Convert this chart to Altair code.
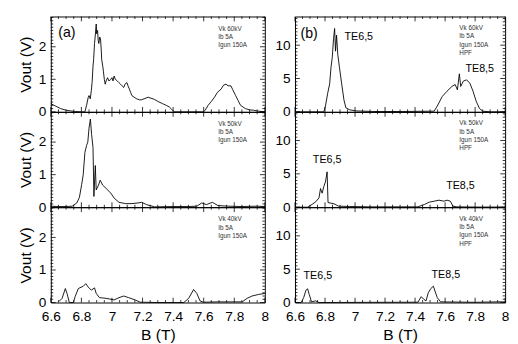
import altair as alt
import pandas as pd

FONT = "Liberation Sans"

# ---------------- data ----------------
# (a) Vk 60kV, no filter
a_B = [6.600, 6.630, 6.664, 6.700, 6.727, 6.760, 6.800, 6.823, 6.834, 6.845, 6.850, 6.858, 6.865, 6.870,
       6.876, 6.880, 6.886, 6.890, 6.897, 6.900, 6.906, 6.910, 6.914, 6.920, 6.925, 6.930, 6.933, 6.940,
       6.944, 6.950, 6.956, 6.962, 6.971, 6.980, 6.993, 7.000, 7.007, 7.014, 7.022, 7.035, 7.045, 7.056,
       7.066, 7.077, 7.085, 7.098, 7.105, 7.114, 7.122, 7.130, 7.145, 7.162, 7.180, 7.194, 7.210, 7.237,
       7.255, 7.279, 7.300, 7.332, 7.355, 7.375, 7.390, 7.407, 7.500, 7.597, 7.610, 7.629, 7.650, 7.671,
       7.690, 7.714, 7.730, 7.746, 7.760, 7.778, 7.790, 7.809, 7.825, 7.841, 7.857, 7.873, 7.900, 7.926,
       7.960, 8.000]
a_V = [0.25, 0.18, 0.10, 0.05, 0.03, 0.01, 0.0, 0.0, 0.2, 0.45, 0.5, 0.4, 0.65, 0.9,
       1.4, 1.6, 2.1, 2.3, 2.7, 2.4, 2.5, 2.2, 2.1, 2.3, 2.25, 1.9, 1.6, 1.4,
       1.25, 1.0, 0.85, 0.95, 1.05, 0.95, 1.0, 1.05, 0.95, 1.1, 1.0, 0.95, 0.9, 0.85,
       0.8, 0.75, 0.85, 0.9, 0.8, 0.7, 0.6, 0.5, 0.45, 0.4, 0.37, 0.37, 0.4, 0.45,
       0.42, 0.38, 0.32, 0.25, 0.2, 0.15, 0.08, 0.0, 0.0, 0.0, 0.05, 0.2, 0.32, 0.45,
       0.6, 0.7, 0.82, 0.85, 0.8, 0.8, 0.68, 0.5, 0.35, 0.2, 0.15, 0.1, 0.06, 0.05,
       0.02, 0.0]

# (c) Vk 50kV, no filter
c_B = [6.600, 6.650, 6.700, 6.740, 6.770, 6.787, 6.802, 6.812, 6.823, 6.834, 6.842, 6.850, 6.859, 6.867,
       6.876, 6.882, 6.891, 6.897, 6.912, 6.923, 6.939, 6.961, 6.993, 7.014, 7.046, 7.088, 7.130, 7.170,
       7.194, 7.226, 7.279, 7.400, 7.500, 7.555, 7.587, 7.618, 7.657, 7.693, 7.765, 7.850, 7.950, 8.000]
c_V = [0.03, 0.02, 0.02, 0.03, 0.13, 0.3, 0.7, 1.0, 1.68, 1.9, 2.0, 2.43, 2.71, 2.23,
       1.83, 0.33, 1.28, 0.53, 0.68, 0.83, 0.68, 0.58, 0.43, 0.28, 0.15, 0.11, 0.11, 0.13,
       0.15, 0.08, 0.01, 0.02, 0.02, 0.03, 0.13, 0.08, 0.15, 0.05, 0.03, 0.02, 0.03, 0.02]

# (e) Vk 40kV, no filter
e_B = [6.653, 6.674, 6.695, 6.706, 6.721, 6.748, 6.759, 6.780, 6.812, 6.829, 6.844, 6.865, 6.886, 6.897,
       6.918, 6.961, 7.014, 7.046, 7.077, 7.109, 7.152, 7.184, 7.300, 7.470, 7.502, 7.534, 7.555, 7.576,
       7.597, 7.700, 7.852, 7.884, 7.916, 7.960, 8.000]
e_V = [0.03, 0.13, 0.43, 0.28, 0.0, 0.0, 0.18, 0.43, 0.5, 0.58, 0.48, 0.38, 0.45, 0.28,
       0.15, 0.13, 0.08, 0.15, 0.2, 0.15, 0.08, 0.01, 0.0, 0.0, 0.13, 0.4, 0.28, 0.05,
       0.01, 0.02, 0.02, 0.13, 0.2, 0.25, 0.28]

# (b) Vk 60kV, HPF
b_B = [6.600, 6.700, 6.792, 6.803, 6.818, 6.831, 6.840, 6.848, 6.857, 6.864, 6.870, 6.877, 6.885, 6.896,
       6.911, 6.926, 6.939, 6.965, 7.008, 7.117, 7.300, 7.527, 7.548, 7.581, 7.613, 7.645, 7.667, 7.682,
       7.695, 7.704, 7.721, 7.743, 7.765, 7.786, 7.807, 7.829, 7.851, 7.900, 8.000]
b_V = [0.0, 0.0, 0.0, 0.87, 2.8, 4.2, 6.7, 8.1, 11.0, 12.5, 9.1, 11.5, 8.6, 6.7,
       4.2, 1.8, 0.6, 0.3, 0.14, 0.05, 0.05, 0.1, 0.87, 2.3, 3.1, 3.8, 4.1, 3.3,
       5.7, 3.8, 4.6, 4.8, 4.3, 3.1, 1.6, 0.5, 0.1, 0.0, 0.0]

# (d) Vk 50kV, HPF
d_B = [6.600, 6.684, 6.706, 6.738, 6.760, 6.770, 6.781, 6.792, 6.803, 6.814, 6.820, 6.840, 6.861, 6.890,
       6.965, 7.100, 7.300, 7.419, 7.462, 7.494, 7.527, 7.559, 7.592, 7.613, 7.635, 7.652, 7.678, 7.800,
       8.000]
d_V = [0.0, 0.0, 0.3, 0.8, 1.4, 2.8, 2.1, 3.1, 3.8, 5.3, 0.7, 0.6, 0.5, 0.15,
       0.1, 0.05, 0.05, 0.05, 0.4, 0.75, 0.9, 1.05, 0.9, 1.05, 0.9, 0.15, 0.05, 0.02,
       0.02]

# (f) Vk 40kV, HPF
f_B = [6.600, 6.641, 6.658, 6.673, 6.684, 6.695, 6.710, 6.738, 6.760, 7.000, 7.419, 7.441, 7.457, 7.473,
       7.488, 7.505, 7.522, 7.533, 7.548, 7.570, 7.800, 7.950, 8.000]
f_V = [0.0, 0.0, 0.74, 1.85, 2.06, 1.2, 0.1, 0.25, 0.0, 0.02, 0.05, 0.88, 0.5, 0.25,
       1.47, 2.1, 2.45, 1.7, 0.74, 0.1, 0.03, 0.1, 0.1]

# annotations
PANEL_LABELS = ["(a)", "(b)"]
PANEL_LABEL_B = [6.705, 6.694]
PANEL_LABEL_V = [2.42, 11.7]

INFO_LEFT = [["Vk 60kV", "Ib 5A", "Igun 150A"],
             ["Vk 50kV", "Ib 5A", "Igun 150A"],
             ["Vk 40kV", "Ib 5A", "Igun 150A"]]
INFO_RIGHT = [["Vk 60kV", "Ib 5A", "Igun 150A", "HPF"],
              ["Vk 50kV", "Ib 5A", "Igun 150A", "HPF"],
              ["Vk 40kV", "Ib 5A", "Igun 150A", "HPF"]]
INFO_B = 7.695
INFO_LEFT_V = [2.55, 2.30, 2.05]
INFO_RIGHT_V = [12.55, 11.3, 10.07, 8.83]

TE_TEXT = ["TE6,5", "TE8,5"]
TE_B = [[7.025, 7.831], [6.814, 7.702], [6.752, 7.605]]
TE_V = [[11.2, 6.4], [7.05, 3.15], [4.0, 4.1]]

# ---------------- axes / layout ----------------
X_DOM = [6.6, 8.0]
L_DOM = [0, 2.93]
R_DOM = [0, 14.3]
L_W, R_W, H = 220, 216, 98

X_LABELS = [6.6, 6.8, 7.0, 7.2, 7.4, 7.6, 7.8, 8.0]
L_Y_LABELS = [0, 1, 2]
R_Y_LABELS = [0, 5, 10]
X_MINOR = [round(6.6 + 0.05 * i, 2) for i in range(29) if i % 4 != 0]
L_Y_MINOR = [round(0.1 * i, 1) for i in range(30) if i % 10 != 0]
R_Y_MINOR = [0.5 * i for i in range(29) if i % 10 != 0]

MAJOR_LEN, MINOR_LEN = 5, 2.5


def tick_layers(xs, ys, w, y_major, y_minor):
    layers = []
    for vals, size in ((X_LABELS, MAJOR_LEN), (X_MINOR, MINOR_LEN)):
        df = pd.DataFrame({"t": vals})
        base = alt.Chart(df).mark_rule(color="black", strokeWidth=0.8)
        layers.append(base.encode(x=alt.X("t:Q", scale=xs, axis=None),
                                  y=alt.value(H), y2=alt.value(H - size)))
        layers.append(base.encode(x=alt.X("t:Q", scale=xs, axis=None),
                                  y=alt.value(0), y2=alt.value(size)))
    for vals, size in ((y_major, MAJOR_LEN), (y_minor, MINOR_LEN)):
        df = pd.DataFrame({"t": vals})
        base = alt.Chart(df).mark_rule(color="black", strokeWidth=0.8)
        layers.append(base.encode(y=alt.Y("t:Q", scale=ys, axis=None),
                                  x=alt.value(0), x2=alt.value(size)))
        layers.append(base.encode(y=alt.Y("t:Q", scale=ys, axis=None),
                                  x=alt.value(w), x2=alt.value(w - size)))
    return layers


def panel(B, V, w, ydom, ylabels, y_minor, bottom, ytitle, info, info_v, te_b, te_v,
          plabel=None, plabel_b=None, plabel_v=None):
    df = pd.DataFrame({"B": B, "V": V})
    xs = alt.Scale(domain=X_DOM, nice=False, zero=False)
    ys = alt.Scale(domain=ydom, nice=False, zero=False)
    if bottom:
        xax = alt.Axis(values=X_LABELS, format="~g", ticks=False, domain=False, grid=False,
                       labelFontSize=14, labelPadding=7, labelFlush=False, labelOverlap=False,
                       labelColor="black", title="B (T)", titleFontSize=16,
                       titleFontWeight="normal", titlePadding=4, titleColor="black")
    else:
        xax = None
    if ytitle:
        yax = alt.Axis(values=ylabels, ticks=False, domain=False, grid=False, labelFontSize=14,
                       labelPadding=5, labelFlush=False, labelOverlap=False, labelColor="black",
                       title=ytitle, titleFontSize=16, titleFontWeight="normal",
                       titlePadding=5, titleColor="black")
    else:
        yax = alt.Axis(values=ylabels, ticks=False, domain=False, grid=False, labelFontSize=14,
                       labelPadding=5, labelFlush=False, labelOverlap=False, labelColor="black",
                       title=None)

    line = alt.Chart(df).mark_line(color="black", strokeWidth=0.9).encode(
        x=alt.X("B:Q", scale=xs, axis=xax),
        y=alt.Y("V:Q", scale=ys, axis=yax),
    )
    layers = [line] + tick_layers(xs, ys, w, ylabels, y_minor)
    info_df = pd.DataFrame({"B": [INFO_B] * len(info), "V": info_v[:len(info)], "t": info})
    layers.append(alt.Chart(info_df).mark_text(fontSize=6.5, align="left", baseline="middle",
                                               color="#333", font=FONT).encode(
        x=alt.X("B:Q", scale=xs, axis=None), y=alt.Y("V:Q", scale=ys, axis=None), text="t:N"))
    if te_b is not None:
        te_df = pd.DataFrame({"B": te_b, "V": te_v, "t": TE_TEXT})
        layers.append(alt.Chart(te_df).mark_text(fontSize=11, align="center", baseline="middle",
                                                 color="black", font=FONT).encode(
            x=alt.X("B:Q", scale=xs, axis=None), y=alt.Y("V:Q", scale=ys, axis=None), text="t:N"))
    if plabel is not None:
        p_df = pd.DataFrame({"B": [plabel_b], "V": [plabel_v], "t": [plabel]})
        layers.append(alt.Chart(p_df).mark_text(fontSize=14.5, align="center", baseline="middle",
                                                color="black", font=FONT).encode(
            x=alt.X("B:Q", scale=xs, axis=None), y=alt.Y("V:Q", scale=ys, axis=None), text="t:N"))
    return alt.layer(*layers).resolve_axis(x="independent", y="independent").properties(
        width=w, height=H)


pa = panel(a_B, a_V, L_W, L_DOM, L_Y_LABELS, L_Y_MINOR, False, "Vout (V)",
           INFO_LEFT[0], INFO_LEFT_V, None, None, PANEL_LABELS[0], PANEL_LABEL_B[0], PANEL_LABEL_V[0])
pc = panel(c_B, c_V, L_W, L_DOM, L_Y_LABELS, L_Y_MINOR, False, "Vout (V)",
           INFO_LEFT[1], INFO_LEFT_V, None, None)
pe = panel(e_B, e_V, L_W, L_DOM, L_Y_LABELS, L_Y_MINOR, True, "Vout (V)",
           INFO_LEFT[2], INFO_LEFT_V, None, None)
pb = panel(b_B, b_V, R_W, R_DOM, R_Y_LABELS, R_Y_MINOR, False, None,
           INFO_RIGHT[0], INFO_RIGHT_V, TE_B[0], TE_V[0], PANEL_LABELS[1], PANEL_LABEL_B[1], PANEL_LABEL_V[1])
pd_ = panel(d_B, d_V, R_W, R_DOM, R_Y_LABELS, R_Y_MINOR, False, None,
            INFO_RIGHT[1], INFO_RIGHT_V, TE_B[1], TE_V[1])
pf = panel(f_B, f_V, R_W, R_DOM, R_Y_LABELS, R_Y_MINOR, True, None,
           INFO_RIGHT[2], INFO_RIGHT_V, TE_B[2], TE_V[2])

left = alt.vconcat(pa, pc, pe, spacing=0, bounds="flush")
right = alt.vconcat(pb, pd_, pf, spacing=0, bounds="flush")
chart = alt.hconcat(left, right, spacing=4,
                    padding={"left": 9, "top": 3, "right": 0, "bottom": 0},
                    background="white").configure(font=FONT).configure_view(
    stroke="black", strokeWidth=1)

chart.save("out.html", embed_options={"renderer": "svg", "actions": False})
